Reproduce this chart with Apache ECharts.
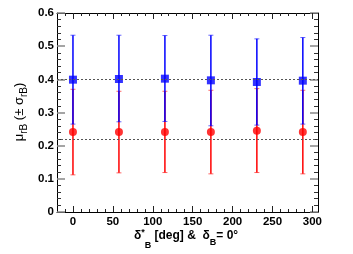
<!DOCTYPE html>
<html>
<head>
<meta charset="utf-8">
<script src="https://cdn.jsdelivr.net/npm/echarts@6/dist/echarts.min.js"></script>
<style>
html,body{margin:0;padding:0;background:#fff;}
#c{width:353px;height:254px;}
</style>
</head>
<body>
<div id="c"></div>
<script>
// ---- data ----
const deltaStar = [0, 57.6, 115.2, 172.8, 230.4, 288];
const blueMean = [0.399, 0.401, 0.402, 0.397, 0.392, 0.396];
const blueLow  = [0.265, 0.272, 0.273, 0.260, 0.262, 0.265];
const blueHigh = [0.533, 0.533, 0.532, 0.533, 0.522, 0.526];
const redMean  = [0.241, 0.241, 0.241, 0.241, 0.245, 0.241];
const redLow   = [0.112, 0.118, 0.119, 0.115, 0.119, 0.115];
const redHigh  = [0.370, 0.364, 0.364, 0.367, 0.372, 0.367];
const refLines = [0.4, 0.22];
const xMajorTicks = [0, 50, 100, 150, 200, 250, 300];
const xMinorTicks = [-10, 10, 20, 30, 40, 60, 70, 80, 90, 110, 120, 130, 140,
  160, 170, 180, 190, 210, 220, 230, 240, 260, 270, 280, 290];
const xMin = -20, xMax = 307;
const yMin = 0, yMax = 0.6, yStep = 0.1;

const chart = echarts.init(document.getElementById('c'), null, {renderer: 'canvas'});

function pts(xs, ys) { return xs.map((x, i) => [x, ys[i]]); }
function bars(xs, lo, hi) { return xs.map((x, i) => [x, lo[i], hi[i]]); }

function errRender(color) {
  return function (params, api) {
    const x = api.value(0), lo = api.value(1), hi = api.value(2);
    const a = api.coord([x, lo]), b = api.coord([x, hi]);
    const hw = 2.5;
    return {
      type: 'group',
      children: [
        {type: 'line', shape: {x1: a[0], y1: a[1], x2: b[0], y2: b[1]}, style: {stroke: color, lineWidth: 1.5}},
        {type: 'line', shape: {x1: b[0] - hw, y1: b[1], x2: b[0] + hw, y2: b[1]}, style: {stroke: color, lineWidth: 1, opacity: 0.6}},
        {type: 'line', shape: {x1: a[0] - hw, y1: a[1], x2: a[0] + hw, y2: a[1]}, style: {stroke: color, lineWidth: 1, opacity: 0.6}}
      ]
    };
  };
}

const gridRect = {left: 57, top: 13, width: 261, height: 199};
const labelFont = {fontFamily: 'Liberation Sans', fontWeight: 'bold', fontSize: 11.5, color: '#000'};
const axisLineStyle = {show: true, onZero: false, lineStyle: {color: '#000', width: 1}};

const option = {
  animation: false,
  backgroundColor: '#fff',
  grid: [Object.assign({}, gridRect), Object.assign({}, gridRect)],
  xAxis: [
    {gridIndex: 0, type: 'value', min: xMin, max: xMax, position: 'bottom',
      axisLine: axisLineStyle,
      axisTick: {show: true, inside: true, length: 6, customValues: xMajorTicks, lineStyle: {color: '#222', width: 1}},
      axisLabel: Object.assign({show: true, margin: 4, customValues: xMajorTicks}, labelFont),
      splitLine: {show: false}},
    {gridIndex: 0, type: 'value', min: xMin, max: xMax, position: 'top',
      axisLine: axisLineStyle,
      axisTick: {show: true, inside: true, length: 6, customValues: xMajorTicks, lineStyle: {color: '#222', width: 1}},
      axisLabel: {show: false}, splitLine: {show: false}},
    {gridIndex: 1, type: 'value', min: xMin, max: xMax, position: 'bottom',
      axisLine: {show: false},
      axisTick: {show: true, inside: true, length: 3, customValues: xMinorTicks, lineStyle: {color: '#222', width: 1}},
      axisLabel: {show: false}, splitLine: {show: false}},
    {gridIndex: 1, type: 'value', min: xMin, max: xMax, position: 'top',
      axisLine: {show: false},
      axisTick: {show: true, inside: true, length: 3, customValues: xMinorTicks, lineStyle: {color: '#222', width: 1}},
      axisLabel: {show: false}, splitLine: {show: false}}
  ],
  yAxis: [
    {gridIndex: 0, type: 'value', min: yMin, max: yMax, interval: yStep, position: 'left',
      axisLine: axisLineStyle,
      axisTick: {show: true, inside: true, length: 8, lineStyle: {color: '#888', width: 1.5}},
      minorTick: {show: true, splitNumber: 5, length: 4, lineStyle: {color: '#333', width: 1}},
      axisLabel: Object.assign({show: true, margin: 3}, labelFont),
      splitLine: {show: false}, minorSplitLine: {show: false}},
    {gridIndex: 0, type: 'value', min: yMin, max: yMax, interval: yStep, position: 'right',
      axisLine: axisLineStyle,
      axisTick: {show: true, inside: true, length: 8, lineStyle: {color: '#888', width: 1.5}},
      minorTick: {show: true, splitNumber: 5, length: 4, lineStyle: {color: '#333', width: 1}},
      axisLabel: {show: false},
      splitLine: {show: false}, minorSplitLine: {show: false}},
    {gridIndex: 1, type: 'value', min: yMin, max: yMax, show: false}
  ],
  series: [
    {type: 'custom', name: 'redErr', xAxisIndex: 0, yAxisIndex: 0, z: 2,
      renderItem: errRender('#ff0000'), data: bars(deltaStar, redLow, redHigh),
      markLine: {silent: true, symbol: ['none', 'none'], label: {show: false},
        lineStyle: {color: '#555', width: 1, type: [2, 2]},
        data: refLines.map(v => ({yAxis: v}))}},
    {type: 'custom', name: 'blueErr', xAxisIndex: 0, yAxisIndex: 0, z: 2,
      renderItem: errRender('#0000ff'), data: bars(deltaStar, blueLow, blueHigh)},
    {type: 'scatter', name: 'red', xAxisIndex: 0, yAxisIndex: 0, z: 3,
      symbol: 'circle', symbolSize: 8, itemStyle: {color: '#ff0000'},
      data: pts(deltaStar, redMean)},
    {type: 'scatter', name: 'blue', xAxisIndex: 0, yAxisIndex: 0, z: 3,
      symbol: 'rect', symbolSize: 8, itemStyle: {color: '#0000ff'},
      data: pts(deltaStar, blueMean)}
  ],
  graphic: [
    {type: 'text', x: 19, y: 112, rotation: Math.PI / 2,
      style: {
        text: '{n|μ}{s|rB}{n| (± σ}{s|rB}{n|)}',
        align: 'center', verticalAlign: 'middle',
        rich: {
          n: {fontFamily: 'Liberation Sans', fontSize: 13, lineHeight: 14, fill: '#000'},
          s: {fontFamily: 'Liberation Sans', fontSize: 10, lineHeight: 10, padding: [10, 0, 0, 0], fill: '#000'}
        }
      }},
    {type: 'text', x: 186, y: 236,
      style: {
        text: '{n|δ}{sup|*}{s1|B}{n| [deg] &  δ}{s2|B}{n|= 0°}',
        align: 'center', verticalAlign: 'middle',
        rich: {
          n: {fontFamily: 'Liberation Sans', fontWeight: 'bold', fontSize: 12, lineHeight: 13, fill: '#000'},
          sup: {fontFamily: 'Liberation Sans', fontWeight: 'bold', fontSize: 9, lineHeight: 9, padding: [0, 0, 6, 0], fill: '#000'},
          s1: {fontFamily: 'Liberation Sans', fontWeight: 'bold', fontSize: 9, lineHeight: 9, padding: [20, 0, 0, 0], fill: '#000'},
          s2: {fontFamily: 'Liberation Sans', fontWeight: 'bold', fontSize: 9, lineHeight: 9, padding: [14, 0, 0, 0], fill: '#000'}
        }
      }}
  ]
};
chart.setOption(option);
</script>
</body>
</html>
